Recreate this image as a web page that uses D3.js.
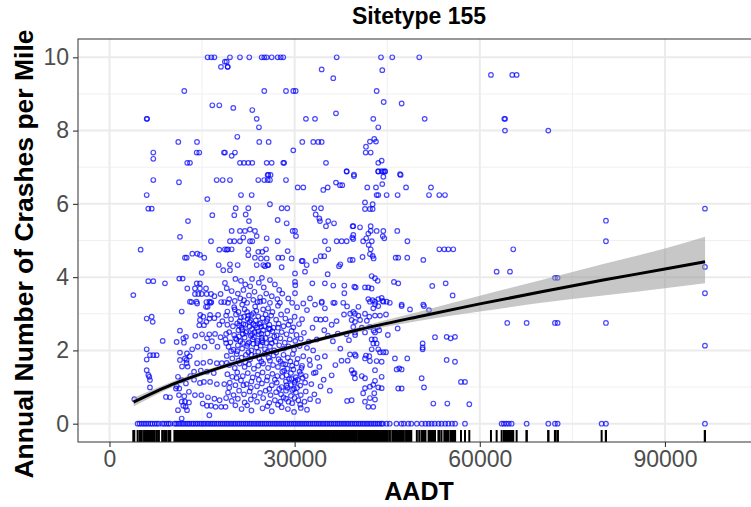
<!DOCTYPE html>
<html>
<head>
<meta charset="utf-8">
<script src="https://cdn.jsdelivr.net/npm/d3@7"></script>
<style>
  body { margin: 0; background: #fff; }
  svg { display: block; font-family: "Liberation Sans", Arial, sans-serif; }
</style>
</head>
<body>
<svg id="chart"></svg>
<script>
// sites with at least one crash: [AADT, crashes per mile]
var crashSites = [
  [15900,10],[16500,10],[17000,10],[18700,9.88],[18060,9.74],[19150,9.74],[12120,9.08],[16660,8.69],[17790,8.69],
  [6030,8.32],[6100,8.32],[11150,7.69],[14180,7.69],[7100,7.40],[7100,7.23],[14130,7.40],[14550,7.40],[18550,7.40],
  [12600,7.12],[13040,7.12],[7100,6.65],[11260,6.59],[17370,6.65],[18340,6.65],[6030,6.24],[15850,6.13],[6290,5.87],
  [6840,5.87],[16660,5.69],[12720,5.53],[11420,5.10],[16450,4.98],[5050,4.75],[13420,4.64],[14230,4.64],[14660,4.61],
  [15360,4.53],[12230,4.53],[12510,4.53],[17790,4.75],[18990,4.75],[17690,4.33],[18440,4.19],[14940,4.12],[6290,3.89],
  [7100,3.89],[8990,3.83],[11310,3.96],[11860,3.96],[14130,3.83],[14660,3.83],[18710,3.84],[12610,3.69],[3860,3.51],
  [13850,3.69],[14660,3.69],[15640,3.69],[13850,3.54],[14390,3.54],[14940,3.54],[15750,3.54],[16450,3.54],[17000,3.48],
  [18000,3.54],[13300,3.32],[15700,3.32],[16500,3.32],[18100,3.32],[18600,3.32],
  [6030,2.87],[6840,2.92],[7000,2.78],[11700,3.06],[13040,3.33],[8620,2.26],[6030,2.03],[6560,1.87],[7100,1.87],
  [7640,1.87],[6030,1.75],[6030,1.46],[6300,1.33],[6450,1.28],[6560,1.19],[6560,0.99],[4020,0.67],[9150,0.73],
  [9800,0.72],[10770,0.96],[11310,0.96],[10880,2.23],[11960,2.33],[12070,2.21],[11420,2.54],[12390,2.37],
  [11420,1.94],[12550,1.92],[13000,1.84],[12230,1.78],[12500,1.74],[11420,1.74],[12500,1.65],[12660,1.56],[11750,1.56],
  [11100,1.28],[11700,1.19],[12390,1.10],[11260,0.78],[12120,0.75],[12880,0.87],[13850,0.78],[11700,0.60],[12230,0.60],
  [12880,0.58],[11960,0.49],[12340,0.46],[11100,0.37],[12560,0.37],[11700,0.14],[14660,2.83],[15310,2.69],[14550,2.69],
  [14100,3.33],[16200,3.33],[15640,3.19],[16200,2.87],[13900,2.40],[14990,2.44],[15800,2.33],[16180,2.44],[16600,2.25],
  [14300,2.10],[15400,2.10],[17500,2.10],[18900,2.20],[14200,1.65],[15200,1.66],[16300,1.69],[17400,1.65],[18200,1.65],
  [19000,1.66],[13700,1.42],[14800,1.45],[15800,1.42],[16900,1.38],[14660,1.11],[15300,1.14],[16300,1.14],[17400,1.08],
  [18600,1.08],[14880,0.78],[15960,0.72],[17000,0.68],[17850,0.64],[15100,0.55],[15800,0.49],[16450,0.49],[17200,0.46],
  [18100,0.46],[18800,0.46],[16180,0.23],[14200,3.28],[16400,3.30],[15900,3.19],[14700,2.97],[15200,2.92],[16300,2.97],
  [15700,2.78],[17000,2.88],[17600,2.97],[17800,2.70],[18300,2.80],[19100,3.06],[18900,2.45],[17100,2.45],[18000,2.36],
  [13400,2.03],[13100,1.30],[13700,1.20],[10900,1.02],
  [19520,10],[21140,10],[22650,10],[24660,10],[25080,10],[25470,10],[26280,10],[27250,10],[27740,10],[28160,10],
  [36810,10],[18990,9.88],[19150,9.74],[34380,9.67],[36260,9.43],[25080,9.08],[28600,9.08],[29780,9.08],[30170,9.08],
  [20060,8.62],[23140,8.56],[23850,8.32],[31830,8.32],[33300,8.32],[36700,8.47],[24220,8.09],[20710,7.83],[24270,7.69],
  [25790,7.69],[31240,7.69],[33020,7.69],[33830,7.69],[34380,7.69],[29780,7.46],[18710,7.40],[20330,7.40],[19800,7.31],
  [21140,7.12],[21790,7.12],[22490,7.12],[23140,7.12],[25470,7.12],[26280,7.12],[28160,7.12],[28300,7.12],[35080,7.12],
  [25730,6.79],[38430,6.89],
  [43990,10],[45820,10],[50190,10],[44200,9.65],[43290,9.08],[44430,8.78],[47340,8.74],[42740,8.32],[51070,8.32],
  [43550,8.09],[42900,7.77],[43180,7.70],[42200,7.70],[41560,7.56],[41510,7.40],[42320,7.40],[44100,7.18],[43550,7.12],
  [43550,6.89],[44100,6.89],[44640,6.89],[47070,6.81],[39610,6.80],
  [19520,6.65],[24110,6.65],[25080,6.65],[25630,6.65],[26000,6.65],[28600,6.65],[25630,6.79],[26100,6.79],[38430,6.88],
  [30490,6.45],[31400,6.45],[34640,6.38],[35350,6.45],[36700,6.58],[37350,6.51],[37720,6.51],[21310,6.24],[23040,6.24],
  [26000,5.99],[20450,5.88],[22490,5.88],[27900,5.88],[28810,5.88],[33190,5.88],[34270,5.88],[20220,5.69],[22070,5.71],
  [22600,5.53],[27250,5.56],[28710,5.47],[33410,5.71],[34000,5.60],[34100,5.53],[35450,5.53],[35080,5.39],[36380,5.47],
  [39400,5.39],[19800,5.26],[21140,5.26],[21950,5.26],[22760,5.30],[23570,5.26],[29680,5.26],[30060,5.26],[23850,5.12],
  [21680,5.08],[25470,5.06],[30220,5.12],[19520,4.98],[20220,4.98],[21140,4.98],[22760,4.98],[23140,4.98],[27250,4.98],
  [34900,4.98],[36810,4.98],[37620,4.98],[38430,4.98],[39340,5.08],[18700,4.76],[19200,4.76],[19800,4.76],[22490,4.76],
  [24110,4.69],[25360,4.76],[24760,4.69],[28870,4.71],[35450,4.76],[22490,4.60],[23570,4.53],[24540,4.51],[25470,4.51],
  [25630,4.33],[25200,4.30],[27350,4.53],[28000,4.53],[29520,4.51],[31140,4.44],[31300,4.44],[31950,4.33],[33410,4.45],
  [34220,4.57],[34800,4.57],[19520,4.35],[20770,4.33],[19520,4.19],[23850,4.33],[24920,4.33],[25730,4.33],[27900,4.27],
  [30060,4.10],[31680,4.15],[35350,4.08],[37190,4.30],[37400,4.35],[39400,4.47],
  [20400,3.95],[21300,3.90],[22000,3.80],[23100,3.95],[24200,3.85],[25000,3.72],[26000,3.92],[26800,3.80],[27500,3.65],
  [19000,3.70],[19800,3.62],[20800,3.55],[21700,3.65],[22600,3.50],[23500,3.60],[24400,3.45],[25400,3.55],[26300,3.48],
  [27200,3.40],[28000,3.55],[19400,3.40],[20300,3.35],[21200,3.42],[22300,3.30],[23300,3.38],[24000,3.32],[25000,3.35],
  [26000,3.30],[27600,3.30],[22800,3.75],[24700,3.98],[21800,3.37],[30060,3.87],[30100,3.78],[32870,3.83],[34900,3.83],
  [36260,3.77],[38050,3.77],[39670,3.74],[30060,3.56],[32490,3.42],[28970,3.42],[34380,3.30],[36260,3.30],[37880,3.30],
  [38050,3.56],
  [39610,6.76],[43550,6.88],[44370,6.88],[44370,6.74],[44640,6.88],[47180,6.79],[41770,6.45],[43180,6.45],[44200,6.54],
  [48050,6.45],[52090,6.45],[43290,6.24],[43550,6.24],[44910,6.24],[46690,6.24],[51770,6.24],[53440,6.24],[54360,6.24],
  [41400,6.04],[42640,5.99],[41400,5.86],[42200,5.86],[42640,5.86],[39500,5.39],[40590,5.36],[39500,5.15],[39500,5.04],
  [42320,5.39],[42320,5.26],[41940,5.19],[43290,5.26],[44370,5.26],[46630,5.26],[44280,5.12],[44530,5.06],[41100,4.98],
  [41600,5.06],[42500,4.98],[42000,4.88],[42320,4.76],[42200,4.63],[42800,4.51],[42640,4.58],[41000,4.55],[48270,4.98],
  [53440,4.76],[54250,4.76],[54900,4.76],[55700,4.76],[46370,4.53],[46790,4.53],[48250,4.53],[50850,4.47],[38970,4.47],
  [42480,4.03],[43020,3.97],[43450,3.90],[46090,3.87],[46790,3.83],[39890,3.72],[41400,3.72],[41940,3.72],[42480,3.69],
  [52300,3.76],[54470,3.83],[55600,3.50],[41940,3.40],[42640,3.37],[43550,3.40],[44100,3.43],[44280,3.35],[43020,3.33],
  [45420,3.30],[47340,3.25],[50840,3.25],
  [40330,3.19],[42200,3.33],[43020,3.26],[43550,3.21],[42740,3.15],[44370,3.33],[44910,3.33],[47340,3.21],[48690,3.12],
  [50960,3.21],[51770,3.10],[39770,3.00],[40330,2.95],[41400,3.00],[42100,2.92],[43020,2.95],[43830,2.95],[44800,2.98],
  [39240,2.83],[39770,2.78],[40600,2.83],[41700,2.81],[39500,2.64],[40880,2.62],[42200,2.64],[42800,2.54],[43450,2.64],
  [39770,2.49],[41400,2.49],[43020,2.49],[43700,2.55],[45100,2.42],[46690,2.60],[52740,2.36],[54630,2.37],[55280,2.33],
  [55980,2.37],[50740,2.19],[50740,2.03],[50740,2.08],[42480,2.30],[43020,2.30],[42750,2.19],[43290,2.19],[42480,2.03],
  [43550,2.03],[43830,1.95],[44370,1.95],[44800,1.95],[38970,1.89],[39770,1.89],[41560,1.86],[42100,1.84],[41400,1.78],
  [42200,1.71],[43290,1.71],[44100,1.69],[46250,1.78],[48250,1.78],[46530,1.48],[46950,1.51],[47340,1.48],[54630,1.74],
  [55980,1.69],[39240,1.46],[39500,1.37],[40880,1.30],[39770,1.24],[41400,1.24],[43020,1.46],[44100,1.28],[43020,1.17],
  [42740,1.06],[42200,1.01],[43550,0.99],[41400,0.97],[44100,0.97],[50580,1.24],[50960,0.99],[46790,0.96],[47340,0.96],
  [56950,1.14],[57600,1.14],[41100,0.83],[42900,0.83],[39240,0.64],[41400,0.60],[42200,0.70],[41940,0.46],[42740,0.46],
  [43020,0.66],[52470,0.55],[54740,0.55],[58300,0.53],
  [61810,9.52],[65260,9.52],[65970,9.52],[63970,8.32],[64100,8.32],[64080,8.0],[71100,8.0],[96480,5.87],[80440,5.54],
  [80440,4.98],[65420,4.76],[62730,4.15],[64890,4.15],[96480,4.28],[72180,3.98],[72610,3.98],[96480,3.56],[64450,2.75],
  [67590,2.75],[72180,2.75],[72610,2.75],[80440,2.75],[96480,2.13],
  [19200,3.30],[20300,3.12],[21500,3.25],[22300,3.05],[23600,3.20],[24400,3.33],[25700,3.15],[27300,3.22],[28800,3.08],
  [29600,3.30],[30400,3.18],[31400,3.28],[32000,3.10],[33300,3.25],[34400,3.33],[34900,3.15],[36500,3.30],[38500,3.20],
  [39500,3.05],[18900,2.95],[19700,2.85],[20500,2.98],[21100,2.80],[21800,2.92],[22400,2.86],[23000,2.97],[23700,2.82],
  [24100,2.93],[24800,2.88],[25500,2.80],[26200,2.95],[27000,2.84],[27800,2.98],[28500,2.87],[29300,2.80],[30000,2.92],
  [31200,2.85],[33500,2.85],[34200,2.84],[35000,2.85],[36800,2.80],[38000,2.98],[39000,3.00],
  [19100,2.70],[20000,2.66],[20700,2.74],[21400,2.62],[22000,2.70],[22700,2.65],[23300,2.72],[23900,2.62],[24500,2.75],
  [25100,2.66],[25900,2.70],[26600,2.62],[27400,2.73],[28200,2.66],[29000,2.70],[29800,2.63],[30700,2.72],
  [19400,2.50],[20200,2.42],[20900,2.55],[21600,2.45],[22200,2.52],[22900,2.40],[23500,2.50],[24200,2.44],[24900,2.55],
  [25600,2.46],[26400,2.52],[27100,2.41],[27900,2.50],[28700,2.44],[29500,2.53],[30300,2.42],[31500,2.48],[34800,2.55],
  [35400,2.40],[37000,2.46],[38400,2.44],[39800,2.42],
  [18800,2.30],[19600,2.22],[20400,2.33],[21200,2.25],[21900,2.35],[22600,2.22],[23200,2.30],[24000,2.26],[24700,2.34],
  [25400,2.20],[26100,2.30],[26900,2.24],[27700,2.33],[28400,2.21],[29200,2.30],[30100,2.26],[31000,2.32],[32300,2.24],
  [33600,2.30],[36200,2.25],[38800,2.28],
  [19300,2.10],[20100,2.02],[20800,2.14],[21500,2.05],[22300,2.12],[23000,2.00],[23800,2.08],[24500,2.13],[25200,2.03],
  [26000,2.10],[26700,2.00],[27500,2.14],[28300,2.05],[29000,2.11],[29900,2.02],[30800,2.12],[32000,2.07],[33000,2.00],
  [19000,1.85],[19900,1.78],[20600,1.90],[21400,1.80],[22100,1.88],[22800,1.76],[23600,1.85],[24300,1.78],[25100,1.90],
  [25800,1.80],[26600,1.86],[27400,1.76],[28200,1.88],[28900,1.80],[29700,1.90],[30500,1.77],[31400,1.84],[32400,1.74],
  [33700,1.80],[34900,1.84],[37600,1.72],[38600,1.72],[39900,1.85],
  [19400,1.60],[20300,1.52],[21100,1.64],[21900,1.55],[22600,1.62],[23400,1.50],[24100,1.58],[24900,1.64],[25700,1.52],
  [26500,1.60],[27300,1.55],[28100,1.63],[28800,1.50],[29600,1.58],[30300,1.65],[31100,1.52],[32500,1.60],[34000,1.55],
  [19100,1.35],[19900,1.28],[20700,1.40],[21600,1.30],[22400,1.38],[23200,1.26],[24000,1.34],[24800,1.40],[25600,1.28],
  [26400,1.36],[27200,1.30],[28000,1.42],[28700,1.32],[29400,1.38],[30200,1.27],[31000,1.35],[31800,1.30],[33400,1.40],
  [36000,1.32],[39700,1.38],
  [19500,1.12],[20400,1.05],[21300,1.18],[22200,1.08],[23000,1.15],[23900,1.02],[24700,1.10],[25500,1.18],[26300,1.05],
  [27100,1.12],[27900,1.00],[28600,1.15],[29400,1.06],[30100,1.17],[30900,1.04],[31700,1.12],[32700,1.08],[34200,1.02],
  [19200,0.85],[20100,0.78],[21000,0.90],[21800,0.80],[22700,0.88],[23500,0.76],[24400,0.84],[25300,0.90],[26100,0.78],
  [27000,0.86],[27800,0.80],[28600,0.90],[29400,0.76],[30200,0.85],[31000,0.78],[31800,0.88],[33200,0.80],
  [19800,0.62],[20800,0.68],[21900,0.58],[22900,0.66],[23900,0.60],[24900,0.70],[25900,0.57],[26800,0.64],[27700,0.60],
  [28600,0.68],[29600,0.56],[30600,0.64],[31600,0.60],[32500,0.67],
  [21400,0.40],[23000,0.36],[24800,0.42],[26300,0.34],[27900,0.45],[28900,0.40],[29900,0.32],[31000,0.43],[32000,0.38],
  [38500,0.62],
  [20900,3.05],[21700,2.72],[22500,2.95],[23100,2.58],[23800,3.08],[24600,2.65],[25300,2.98],[22100,2.48],[23400,2.36],
  [24700,2.28],[21000,2.38],[25800,2.60],[22900,2.82],[24100,2.52],[21300,2.90],[23600,2.68],
  [28300,1.45],[29100,1.22],[29800,1.48],[30500,1.20],[28700,1.05],[29900,0.95],[30800,1.42],[28500,1.62],[29300,1.70],
  [30000,1.12],[31200,1.58],[29600,0.92],
  [20200,3.18],[21000,2.68],[21900,3.12],[22700,2.78],[23300,3.02],[24300,2.72],[24900,3.12],[25600,2.86],[26400,3.05],
  [20600,2.30],[21500,2.56],[22400,2.18],[23100,2.44],[23900,2.20],[24600,2.46],[25300,2.34],[26000,2.58],[26700,2.38],
  [27300,2.62],[20700,1.98],[21600,2.20],[22500,1.95],[23300,2.18],[24100,1.96],[24800,2.22],[25600,1.96],[26300,2.20],
  [27000,1.94],[19700,1.98],[20900,1.72],[22000,1.68],[23000,1.88],[24600,1.70],[26000,1.72],[27700,1.70],
  [28000,1.28],[28800,0.98],[29500,1.22],[30400,0.98],[31300,1.25],[28200,0.72],[29000,0.60],[30000,0.70],[30900,0.52],
  [27500,0.95],[26800,1.20],[25900,0.95],[24200,1.20],[22900,0.98],[21700,1.05],[20600,1.25],[19400,0.98],[18900,0.70],
  [20400,0.50],[22300,0.50],[25600,0.48],[27300,0.52],[33800,0.62],[34700,1.20],[35700,0.90],[36600,1.60],[37400,2.05],
  [36000,2.70],[32900,2.62],[33100,1.38]
];

// sites with no recorded crashes (AADT only)
var zeroSites = [
  4560,4880,5240,5600,5910,6270,6640,6950,7330,7680,8010,8550,8870,9240,9560,9850,
  10520,10800,11130,11420,11760,12050,12390,12700,12980,13330,13610,13950,14240,14560,14870,15190,15470,15820,
  16100,16430,16740,17020,17360,17650,17990,18280,18590,18920,19210,19540,19830,20160,20450,20790,21080,21400,
  21710,22030,22320,22660,22950,23270,23580,23900,24190,24520,24810,25140,25430,25760,26050,26370,26690,27000,
  27310,27620,27940,28230,28560,28850,29180,29470,29800,30090,30420,30710,31030,31340,31660,31950,32280,32570,
  32900,33190,33510,33830,34120,34450,34740,35070,35360,35690,35980,36310,36600,36930,37220,37540,37860,38150,
  38480,38770,39100,39390,39720,40010,40340,40630,40960,41250,41580,41870,42200,42490,42820,43110,43440,43730,
  44060,44300,44900,45400,46500,47300,47700,48400,48900,49800,50600,51200,51700,52200,52700,53300,53800,54400,
  54900,55500,56000,57600,63540,63900,64300,64700,65160,67590,71100,72180,72610,79740,80440,96480
];

// fitted mean and confidence band
var fitAadt = [3900, 10000, 20000, 30000, 40000, 50000, 60000, 70000, 80000, 90000, 96500];
var fitMean = [0.59, 1.06, 1.64, 2.12, 2.55, 2.92, 3.27, 3.60, 3.92, 4.22, 4.42];
var fitLow  = [0.47, 0.98, 1.59, 2.07, 2.48, 2.80, 3.06, 3.30, 3.50, 3.70, 3.83];
var fitHigh = [0.71, 1.14, 1.70, 2.17, 2.62, 3.05, 3.49, 3.92, 4.36, 4.78, 5.10];

var xTicks = [0, 30000, 60000, 90000];
var xMinor = [15000, 45000, 75000];
var yTicks = [0, 2, 4, 6, 8, 10];
var yMinor = [1, 3, 5, 7, 9];

var width = 751;
var height = 507;
var padLeft = 78, padRight = 760, padTop = 39, padBottom = 442;

var svg = d3.select('#chart')
            .attr('width', width)
            .attr('height', height);

var x = d3.scaleLinear().domain([-5100, 105400]).range([padLeft, padRight]);
var y = d3.scaleLinear().domain([-0.5, 10.5]).range([padBottom, padTop]);

svg.append('clipPath').attr('id', 'panel-clip')
   .append('rect')
   .attr('x', padLeft).attr('y', padTop)
   .attr('width', padRight - padLeft).attr('height', padBottom - padTop);

var panel = svg.append('g').attr('clip-path', 'url(#panel-clip)');

// grid
panel.selectAll('line.minor-y')
     .data(yMinor).enter().append('line')
     .attr('class', 'minor-y')
     .attr('x1', padLeft).attr('x2', padRight)
     .attr('y1', function(d){ return y(d); })
     .attr('y2', function(d){ return y(d); })
     .attr('stroke', '#f0f0f0').attr('stroke-width', 1);

panel.selectAll('line.minor-x')
     .data(xMinor).enter().append('line')
     .attr('class', 'minor-x')
     .attr('y1', padTop).attr('y2', padBottom)
     .attr('x1', function(d){ return x(d); })
     .attr('x2', function(d){ return x(d); })
     .attr('stroke', '#f0f0f0').attr('stroke-width', 1);

panel.selectAll('line.major-y')
     .data(yTicks).enter().append('line')
     .attr('class', 'major-y')
     .attr('x1', padLeft).attr('x2', padRight)
     .attr('y1', function(d){ return y(d); })
     .attr('y2', function(d){ return y(d); })
     .attr('stroke', '#ebebeb').attr('stroke-width', 2);

panel.selectAll('line.major-x')
     .data(xTicks).enter().append('line')
     .attr('class', 'major-x')
     .attr('y1', padTop).attr('y2', padBottom)
     .attr('x1', function(d){ return x(d); })
     .attr('x2', function(d){ return x(d); })
     .attr('stroke', '#ebebeb').attr('stroke-width', 2);

// points
panel.selectAll('circle.crash')
     .data(crashSites).enter().append('circle')
     .attr('class', 'crash')
     .attr('cx', function(d){ return x(d[0]); })
     .attr('cy', function(d){ return y(d[1]); })
     .attr('r', 2.3)
     .attr('fill', 'none')
     .attr('stroke', 'blue')
     .attr('stroke-opacity', 0.72)
     .attr('stroke-width', 1.2);

panel.selectAll('circle.zero')
     .data(zeroSites).enter().append('circle')
     .attr('class', 'zero')
     .attr('cx', function(d){ return x(d); })
     .attr('cy', y(0))
     .attr('r', 2.3)
     .attr('fill', 'none')
     .attr('stroke', 'blue')
     .attr('stroke-opacity', 0.72)
     .attr('stroke-width', 1.2);

// smooth with band
var band = fitAadt.map(function(d, i){
  return { aadt: d, mean: fitMean[i], lo: fitLow[i], hi: fitHigh[i] };
});

panel.append('path')
     .datum(band)
     .attr('d', d3.area()
       .curve(d3.curveMonotoneX)
       .x(function(d){ return x(d.aadt); })
       .y0(function(d){ return y(d.lo); })
       .y1(function(d){ return y(d.hi); }))
     .attr('fill', '#999999')
     .attr('fill-opacity', 0.55);

panel.append('path')
     .datum(band)
     .attr('d', d3.line()
       .curve(d3.curveMonotoneX)
       .x(function(d){ return x(d.aadt); })
       .y(function(d){ return y(d.mean); }))
     .attr('fill', 'none')
     .attr('stroke', 'black')
     .attr('stroke-width', 3);

// rug along the bottom
var rugAadt = crashSites.map(function(d){ return d[0]; }).concat(zeroSites);

panel.selectAll('line.rug')
     .data(rugAadt).enter().append('line')
     .attr('class', 'rug')
     .attr('x1', function(d){ return x(d); })
     .attr('x2', function(d){ return x(d); })
     .attr('y1', padBottom)
     .attr('y2', padBottom - 12)
     .attr('stroke', 'black')
     .attr('stroke-width', 2);

// panel border
svg.append('rect')
   .attr('x', padLeft).attr('y', padTop)
   .attr('width', padRight - padLeft).attr('height', padBottom - padTop)
   .attr('fill', 'none')
   .attr('stroke', '#333333')
   .attr('stroke-width', 1);

// axes
var xAxis = svg.append('g')
               .attr('transform', 'translate(0,' + padBottom + ')')
               .call(d3.axisBottom(x).tickValues(xTicks).tickSize(5).tickPadding(4).tickFormat(d3.format('d')));
var yAxis = svg.append('g')
               .attr('transform', 'translate(' + padLeft + ',0)')
               .call(d3.axisLeft(y).tickValues(yTicks).tickSize(5).tickPadding(4).tickFormat(d3.format('d')));

[xAxis, yAxis].forEach(function(ax){
  ax.select('.domain').remove();
  ax.selectAll('.tick line').attr('stroke', '#333333').attr('stroke-width', 1.1);
  ax.selectAll('.tick text')
    .attr('fill', '#4d4d4d')
    .style('font-size', '23px')
    .style('font-family', '"Liberation Sans", Arial, sans-serif');
});

// titles
svg.append('text')
   .attr('x', (padLeft + padRight) / 2)
   .attr('y', 24)
   .attr('text-anchor', 'middle')
   .style('font-size', '23px')
   .style('font-weight', 'bold')
   .text('Sitetype 155');

svg.append('text')
   .attr('x', (padLeft + padRight) / 2)
   .attr('y', 500)
   .attr('text-anchor', 'middle')
   .style('font-size', '25px')
   .style('font-weight', 'bold')
   .text('AADT');

svg.append('text')
   .attr('transform', 'translate(33,254) rotate(-90)')
   .attr('text-anchor', 'middle')
   .style('font-size', '26.5px')
   .style('font-weight', 'bold')
   .text('Annual Number of Crashes per Mile');
</script>
</body>
</html>
